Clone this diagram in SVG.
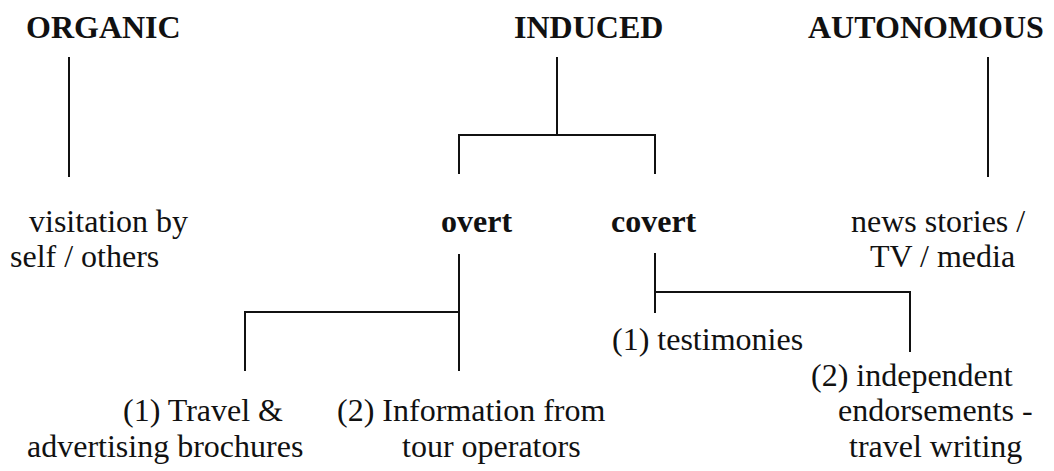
<svg xmlns="http://www.w3.org/2000/svg" width="1054" height="471" viewBox="0 0 1054 471">
  <style>
    text { font-family: "Liberation Serif", "Times New Roman", serif; font-size: 32px; fill: #111; }
    .head { font-weight: bold; }
    .sub { font-weight: bold; }
    .link { stroke: #111; stroke-width: 2; fill: none; stroke-linecap: square; }
  </style>
  <rect width="1054" height="471" fill="#fff"/>

  <!-- tree connectors -->
  <g id="connectors">
    <line class="link" x1="69" y1="58" x2="69" y2="176"/>
    <line class="link" x1="557" y1="58" x2="557" y2="135"/>
    <polyline class="link" points="459,173 459,135 655,135 655,173"/>
    <line class="link" x1="988" y1="58" x2="988" y2="176"/>
    <line class="link" x1="459" y1="255" x2="459" y2="370"/>
    <polyline class="link" points="245,370 245,312 459,312"/>
    <line class="link" x1="655" y1="254" x2="655" y2="312"/>
    <polyline class="link" points="655,292 910,292 910,351"/>
  </g>

  <!-- top-level categories -->
  <g id="organic"><text class="head" x="26" y="38">ORGANIC</text></g>
  <g id="induced"><text class="head" x="514" y="38">INDUCED</text></g>
  <g id="autonomous"><text class="head" x="808" y="38">AUTONOMOUS</text></g>

  <!-- second level -->
  <g id="visitation">
    <text x="29" y="232">visitation by</text>
    <text x="10" y="267">self / others</text>
  </g>
  <g id="overt"><text class="sub" x="441" y="232">overt</text></g>
  <g id="covert"><text class="sub" x="611" y="232">covert</text></g>
  <g id="news">
    <text x="851" y="232">news stories /</text>
    <text x="870" y="267">TV / media</text>
  </g>

  <!-- third level -->
  <g id="brochures">
    <text x="123" y="421">(1) Travel &amp;</text>
    <text x="27" y="457">advertising brochures</text>
  </g>
  <g id="operators">
    <text x="337" y="421">(2) Information from</text>
    <text x="402" y="457">tour operators</text>
  </g>
  <g id="testimonies"><text x="612" y="350">(1) testimonies</text></g>
  <g id="endorsements">
    <text x="811" y="386">(2) independent</text>
    <text x="838" y="421">endorsements -</text>
    <text x="849" y="457">travel writing</text>
  </g>
</svg>
